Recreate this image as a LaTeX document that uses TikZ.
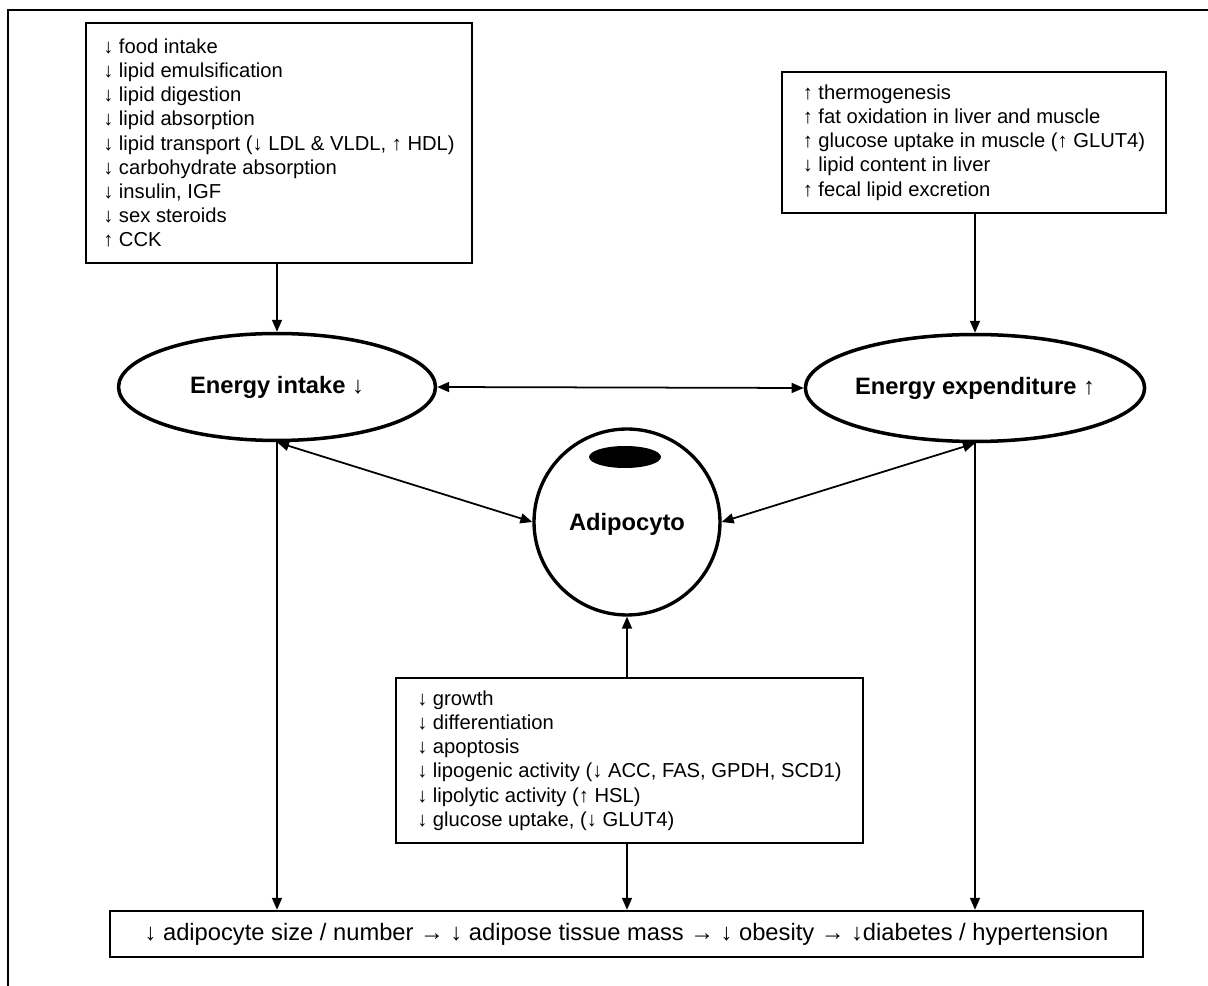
\documentclass[tikz,border=0pt]{standalone}
\usepackage{fontspec}
\setmainfont{Liberation Sans}
\usepackage{tikz}
\usetikzlibrary{shapes.geometric, arrows.meta, positioning, calc}
\tikzset{
  % Box styles
  listbox/.style={rectangle, draw=black, line width=1.2pt, align=left, inner sep=0pt, font=\fontsize{11.5}{13.8}\selectfont},
  resultbox/.style={rectangle, draw=black, line width=1.4pt, inner sep=0pt, font=\fontsize{13.5}{16}\selectfont},
  % Shape styles
  oval/.style={ellipse, draw=black, line width=2pt, inner sep=0pt, minimum width=6.34cm, minimum height=2.14cm, font=\fontsize{13.5}{16}\selectfont\bfseries},
  cell/.style={circle, draw=black, line width=1.9pt, inner sep=0pt, minimum size=3.72cm, font=\fontsize{13.5}{16}\selectfont\bfseries},
  nucleus/.style={ellipse, fill=black, inner sep=0pt, minimum width=1.44cm, minimum height=0.44cm},
  % Connector styles
  arrow/.style={-{Triangle[length=2.4mm, width=2mm]}, line width=1pt},
  biarrow/.style={{Triangle[length=2.4mm, width=2mm]}-{Triangle[length=2.4mm, width=2mm]}, line width=1pt},
}
\begin{document}
\begin{tikzpicture}[x=0.02cm, y=-0.02cm]
    \useasboundingbox (0,0) rectangle (1208,986);
    % Frame
    \draw[line width=1.7pt] (1208,10) -- (8,10) -- (8,986);
    % Factor boxes
    \node[listbox, minimum width=7.72cm, minimum height=4.8cm] (intakebox) at (279,143) {%
      ↓ food intake\\ ↓ lipid emulsification\\ ↓ lipid digestion\\ ↓ lipid absorption\\
      ↓ lipid transport (↓ LDL \& VLDL, ↑ HDL)\\ ↓ carbohydrate absorption\\
      ↓ insulin, IGF\\ ↓ sex steroids\\ ↑ CCK};
    \node[listbox, minimum width=7.68cm, minimum height=2.82cm] (expendbox) at (974,142.5) {%
      ↑ thermogenesis\\ ↑ fat oxidation in liver and muscle\\
      ↑ glucose uptake in muscle (↑ GLUT4)\\ ↓ lipid content in liver\\ ↑ fecal lipid excretion};
    \node[listbox, minimum width=9.34cm, minimum height=3.3cm] (cellbox) at (629.5,760.5) {%
      ↓ growth\\ ↓ differentiation\\ ↓ apoptosis\\
      ↓ lipogenic activity (↓ ACC, FAS, GPDH, SCD1)\\ ↓ lipolytic activity (↑ HSL)\\
      ↓ glucose uptake, (↓ GLUT4)};
    % Energy balance
    \node[oval] (intake) at (277,387) {Energy intake ↓};
    \node[oval] (expend) at (975,388) {Energy expenditure ↑};
    % Adipocyte
    \node[cell, text depth=-6pt] (adipo) at (627,522) {Adipocyto};
    \node[nucleus] (nucl) at (625,457) {};
    % Outcome
    \node[resultbox, minimum width=20.66cm, minimum height=0.92cm] (outcome) at (626.5,934)
      {↓ adipocyte size / number → ↓ adipose tissue mass → ↓ obesity → ↓diabetes / hypertension};
    % Connectors
    \draw[arrow] (intake.north |- intakebox.south) -- (intake.north);
    \draw[arrow] (expend.north |- expendbox.south) -- (expend.north);
    \draw[biarrow] (intake.east) -- (expend.west);
    \draw[biarrow] (intake.south) -- (adipo.west);
    \draw[biarrow] (expend.south) -- (adipo.east);
    \draw[arrow] (adipo.south |- cellbox.north) -- (adipo.south);
    \draw[arrow] (intake.south) -- (intake.south |- outcome.north);
    \draw[arrow] (expend.south) -- (expend.south |- outcome.north);
    \draw[arrow] (adipo.south |- cellbox.south) -- (adipo.south |- outcome.north);
\end{tikzpicture}
\end{document}
